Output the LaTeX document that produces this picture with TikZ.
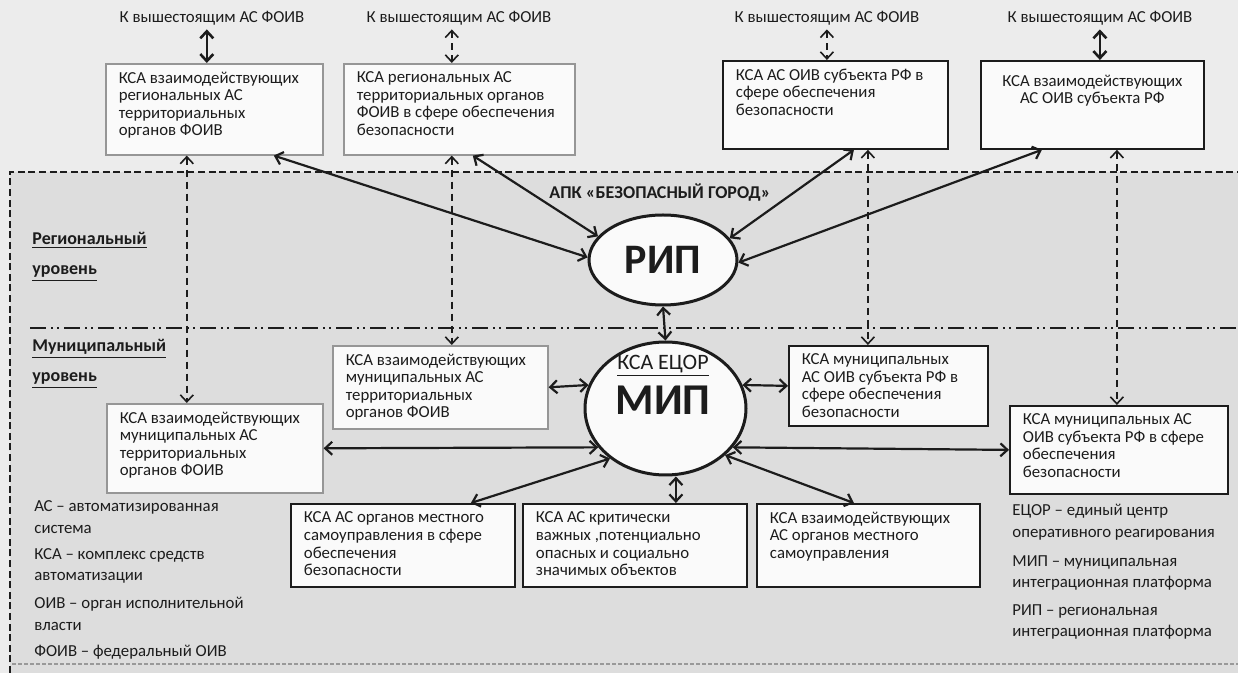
\documentclass[tikz,border=0pt]{standalone}
\usepackage{fontspec}
\setmainfont{Carlito}
\usetikzlibrary{arrows.meta,calc,shapes.geometric}
\definecolor{paper}{RGB}{236,236,236}
\definecolor{zone}{RGB}{221,221,221}
\definecolor{ink}{RGB}{28,28,28}
\definecolor{boxfill}{RGB}{250,250,250}
\definecolor{frame}{RGB}{150,150,150}
\newcommand{\fs}{\fontsize{8.4}{8.8}\selectfont}
\newcommand{\boxtxt}[3]{\parbox[t][#2][t]{#1}{\raggedright #3}}
\newcommand{\boxctr}[3]{\parbox[t][#2][t]{#1}{\centering #3}}

\begin{document}
\begin{tikzpicture}[x=0.5pt,y=-0.5pt,
  every node/.style={text=ink},
  kbox/.style={draw=ink, line width=0.9pt, fill=boxfill, anchor=north west,
               inner xsep=6.5pt, inner ysep=4pt, font=\fs},
  gbox/.style={kbox, draw=frame, line width=0.8pt},
  lbl/.style={font=\fs, inner sep=1pt},
  legend/.style={font=\fs, anchor=west, align=left, inner sep=0pt},
  level/.style={font=\fontsize{9}{15}\selectfont\bfseries, anchor=west, align=left, inner sep=0pt},
  link/.style={draw=ink, line width=1.1pt, >={Straight Barb[length=3.5pt,width=6.5pt]}, <->},
  toplink/.style={link, line width=1.3pt},
  dlink/.style={link, line width=0.8pt, dash pattern=on 3.5pt off 2.5pt},
  platform/.style={ellipse, draw=ink, line width=1.5pt, fill=boxfill, inner sep=0pt}
]
\useasboundingbox (0,0) rectangle (1238,673);

% paper and the dashed zone of the security complex
\fill[paper] (0,0) rectangle (1238,673);
\fill[zone] (10,172) rectangle (1238,673);
\draw[ink, line width=0.7pt, dash pattern=on 3.5pt off 1.8pt] (10,673) -- (10,172) -- (1238,172);
\draw[ink!45, line width=0.6pt, dash pattern=on 2pt off 1pt] (12,664) -- (1238,664);
% boundary between regional and municipal levels
\draw[ink, line width=0.8pt, dash pattern=on 8pt off 2.5pt on 1pt off 2pt on 1pt off 2.5pt] (30,328) -- (1238,328);

% links upward
\node[lbl] (up1) at (212,18) {К вышестоящим АС ФОИВ};
\node[lbl] (up2) at (459,18) {К вышестоящим АС ФОИВ};
\node[lbl] (up3) at (827,18) {К вышестоящим АС ФОИВ};
\node[lbl] (up4) at (1100,18) {К вышестоящим АС ФОИВ};

% regional systems
\node[gbox] (box1) at (105,63) {\boxtxt{95.5pt}{37.5pt}{КСА взаимодействующих\\региональных АС\\территориальных\\органов ФОИВ}};
\node[gbox] (box2) at (343,63) {\boxtxt{102.5pt}{37.5pt}{КСА региональных АС\\территориальных органов\\ФОИВ в сфере обеспечения\\безопасности}};
\node[kbox] (box3) at (722,60) {\boxtxt{99.5pt}{36pt}{КСА АС ОИВ субъекта РФ в\\сфере обеспечения\\безопасности}};
\node[kbox] (box4) at (980,60) {\boxctr{98.5pt}{36pt}{\vspace*{3pt}КСА взаимодействующих\\АС ОИВ субъекта РФ}};

% level captions
\node[level] (lvreg) at (32,257) {\underline{Региональный}\\\underline{уровень}};
\node[level] (lvmun) at (32,364) {\underline{Муниципальный}\\\underline{уровень}};
\node[font=\fontsize{9}{10}\selectfont\bfseries, inner sep=0pt] (apk) at (660,193) {АПК «БЕЗОПАСНЫЙ ГОРОД»};

% integration platforms
\node[platform, minimum width=74pt, minimum height=45pt,
      font=\fontsize{21}{24}\selectfont\bfseries] (rip) at (663,260) {РИП};
\node[platform, minimum width=80.5pt, minimum height=66.5pt] (mip) at (665.5,408.5) {};
\node[font=\fontsize{11}{12}\selectfont, inner sep=0pt] (ecor) at (663,366) {\underline{КСА ЕЦОР}};
\node[font=\fontsize{22}{24}\selectfont\bfseries, inner sep=0pt] (miptxt) at (663,400) {МИП};

% municipal systems
\node[gbox] (boxB) at (332,345) {\boxtxt{94.5pt}{33.5pt}{КСА взаимодействующих\\муниципальных АС\\территориальных\\органов ФОИВ}};
\node[gbox] (boxA) at (106,403) {\boxtxt{95pt}{36.5pt}{КСА взаимодействующих\\муниципальных АС\\территориальных\\органов ФОИВ}};
\node[kbox] (boxC) at (788,345) {\boxtxt{86.5pt}{32pt}{КСА муниципальных\\АС ОИВ субъекта РФ в\\сфере обеспечения\\безопасности}};
\node[kbox] (boxD) at (1009,405) {\boxtxt{96pt}{36pt}{КСА муниципальных АС\\ОИВ субъекта РФ в сфере\\обеспечения\\безопасности}};
\node[kbox] (boxE) at (290,503) {\boxtxt{99pt}{33.5pt}{КСА АС органов местного\\самоуправления в сфере\\обеспечения\\безопасности}};
\node[kbox] (boxF) at (522,503) {\boxtxt{99pt}{33.5pt}{КСА АС критически\\важных ,потенциально\\опасных и социально\\значимых объектов}};
\node[kbox] (boxG) at (756,503) {\boxtxt{98.5pt}{33.5pt}{КСА взаимодействующих\\АС органов местного\\самоуправления}};

% abbreviations
\node[legend] (ab1) at (34,517) {АС – автоматизированная\\[2pt]система};
\node[legend] (ab2) at (34,566) {КСА – комплекс средств\\[2pt]автоматизации};
\node[legend] (ab3) at (34,614) {ОИВ – орган исполнительной\\[2pt]власти};
\node[legend] (ab4) at (34,652) {ФОИВ – федеральный ОИВ};
\node[legend] (ab5) at (1012,522) {ЕЦОР – единый центр\\[2pt]оперативного реагирования};
\node[legend] (ab6) at (1012,573) {МИП – муниципальная\\[2pt]интеграционная платформа};
\node[legend] (ab7) at (1012,622) {РИП – региональная\\[2pt]интеграционная платформа};

% attachment points on the boxes
\coordinate (b1n) at ($(box1.north)+(-7.5,0)$);
\coordinate (b2n) at ($(box2.north)+(-7.5,0)$);
\coordinate (b3n) at ($(box3.north)+(-8.5,0)$);
\coordinate (b4n) at ($(box4.north)+(7.5,0)$);
\coordinate (b1d) at ($(box1.south)+(-27.5,0)$);
\coordinate (b1r) at ($(box1.south)+(59.5,0)$);
\coordinate (b2d) at ($(box2.south)+(-7.5,0)$);
\coordinate (b2r) at ($(box2.south)+(13.5,0)$);
\coordinate (b3d) at ($(box3.south)+(32.5,0)$);
\coordinate (b3r) at ($(box3.south)+(18.5,0)$);
\coordinate (b4d) at ($(box4.south)+(24.5,0)$);
\coordinate (b4r) at ($(box4.south)+(-50.5,0)$);
\coordinate (eN) at ($(boxE.north)+(68,0)$);
\coordinate (fN) at ($(boxF.north)+(41,0)$);
\coordinate (gN) at ($(boxG.north)+(-14.5,0)$);

% upward connections
\draw[toplink] ([yshift=-1pt]b1n |- up1.south) -- (b1n);
\draw[dlink] ([yshift=-1pt]b2n |- up2.south) -- (b2n);
\draw[dlink] ([yshift=-1pt]b3n |- up3.south) -- (b3n);
\draw[toplink] ([yshift=-1pt]b4n |- up4.south) -- (b4n);

% regional systems to РИП
\draw[link] (b1r) -- (rip.178);
\draw[link] (b2r) -- (rip.160);
\draw[link] (b3r) -- (rip.18);
\draw[link] (b4r) -- (rip.-2);
\draw[link] (rip.south) -- (mip.north);

% regional to municipal counterparts
\draw[dlink] (b1d) -- (b1d |- boxA.north);
\draw[dlink] (b2d) -- (b2d |- boxB.north);
\draw[dlink] (b3d) -- (b3d |- boxC.north);
\draw[dlink] (b4d) -- (b4d |- boxD.north);

% municipal systems to МИП
\draw[link] (boxB.east) -- (mip.163.5);
\draw[link] (boxA.east) -- (mip.210.9);
\draw[link] (mip.17) -- (boxC.west);
\draw[link] (mip.-30) -- (boxD.west);
\draw[link] (mip.222.3) -- (eN);
\draw[link] (fN |- mip.south) -- (fN);
\draw[link] (mip.-38) -- (gN);
\end{tikzpicture}
\end{document}
